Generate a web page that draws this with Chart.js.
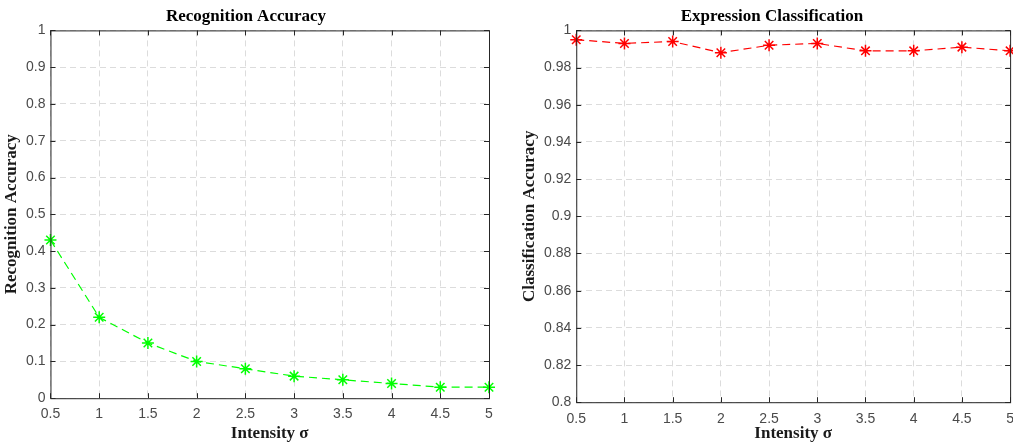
<!DOCTYPE html>
<html>
<head>
<meta charset="utf-8">
<script src="https://cdn.jsdelivr.net/npm/chart.js@4/dist/chart.umd.min.js"></script>
<style>
  html, body { margin: 0; padding: 0; background: #fff; overflow: hidden; }
  .wrap { position: absolute; top: 0; height: 445px; }
  #left { left: 0; width: 506px; }
  #right { left: 506px; width: 517px; }
</style>
</head>
<body>
<div class="wrap" id="left"><canvas id="recChart"></canvas></div>
<div class="wrap" id="right"><canvas id="clsChart"></canvas></div>
<script>
const sigma = [0.5, 1, 1.5, 2, 2.5, 3, 3.5, 4, 4.5, 5];
const recognitionAccuracy = [0.43, 0.22, 0.15, 0.10, 0.08, 0.06, 0.05, 0.04, 0.03, 0.03];
const classificationAccuracy = [0.995, 0.993, 0.994, 0.988, 0.992, 0.993, 0.989, 0.989, 0.991, 0.989];

const SERIF = '"Liberation Serif", "Times New Roman", serif';
const SANS = '"Liberation Sans", Arial, sans-serif';

// box around the plot + small inward tick marks, like matlab axes
const boxPlugin = {
  id: 'box',
  afterDraw(chart) {
    const { ctx, chartArea: a, scales } = chart;
    ctx.save();
    ctx.strokeStyle = '#262626';
    ctx.lineWidth = 1;
    ctx.setLineDash([]);
    ctx.strokeRect(a.left + 0.5, a.top + 0.5, a.right - a.left, a.bottom - a.top);
    ctx.beginPath();
    scales.x.ticks.forEach((t) => {
      const px = Math.round(scales.x.getPixelForValue(t.value)) + 0.5;
      ctx.moveTo(px, a.bottom); ctx.lineTo(px, a.bottom - 5);
      ctx.moveTo(px, a.top); ctx.lineTo(px, a.top + 5);
    });
    scales.y.ticks.forEach((t) => {
      const py = Math.round(scales.y.getPixelForValue(t.value)) + 0.5;
      ctx.moveTo(a.left, py); ctx.lineTo(a.left + 5, py);
      ctx.moveTo(a.right, py); ctx.lineTo(a.right - 5, py);
    });
    ctx.stroke();
    ctx.restore();
  },
};

function makeChart(id, title, yTitle, values, color, yMin, yMax, yStep, padding, xTickPad, xTitlePad) {
  const ctx = document.getElementById(id).getContext('2d');
  return new Chart(ctx, {
    type: 'line',
    data: {
      datasets: [
        {
          data: sigma.map((s, i) => ({ x: s, y: values[i] })),
          borderColor: color,
          backgroundColor: color,
          borderWidth: 1.2,
          borderDash: [8, 5],
          pointStyle: 'star',
          pointRadius: 6,
          pointBorderWidth: 1.5,
          pointBorderColor: color,
          tension: 0,
          clip: false,
        },
      ],
    },
    options: {
      responsive: true,
      maintainAspectRatio: false,
      animation: false,
      layout: { padding: padding },
      plugins: {
        legend: { display: false },
        tooltip: { enabled: false },
        title: {
          display: true,
          text: title,
          color: '#000',
          font: { family: SERIF, size: 17, weight: 'bold' },
          padding: { top: 2, bottom: 4 },
        },
      },
      scales: {
        x: {
          type: 'linear',
          min: 0.5,
          max: 5,
          border: { display: false, dash: [6, 4] },
          grid: { color: '#dcdcdc', drawTicks: false, lineWidth: 1 },
          ticks: {
            stepSize: 0.5,
            color: '#4a4a4a',
            padding: xTickPad,
            maxRotation: 0,
            font: { family: SANS, size: 14 },
            callback: (v) => String(+v.toFixed(2)),
          },
          title: {
            display: true,
            text: 'Intensity σ',
            color: '#1a1a1a',
            font: { family: SERIF, size: 17, weight: 'bold', lineHeight: 1 },
            padding: { top: xTitlePad, bottom: 0 },
          },
        },
        y: {
          min: yMin,
          max: yMax,
          border: { display: false, dash: [6, 4] },
          grid: { color: '#dcdcdc', drawTicks: false, lineWidth: 1 },
          ticks: {
            stepSize: yStep,
            color: '#4a4a4a',
            padding: 5,
            font: { family: SANS, size: 14 },
            callback: (v) => String(+v.toFixed(2)),
          },
          title: {
            display: true,
            text: yTitle,
            color: '#1a1a1a',
            font: { family: SERIF, size: 17, weight: 'bold', lineHeight: 1 },
            padding: { top: 0, bottom: 1 },
          },
        },
      },
    },
    plugins: [boxPlugin],
  });
}

const recChart = makeChart('recChart', 'Recognition Accuracy', 'Recognition Accuracy',
  recognitionAccuracy, '#00ff00', 0, 1, 0.1, { left: 3, right: 17, top: 4, bottom: 3 }, 8, -6);
const clsChart = makeChart('clsChart', 'Expression Classification', 'Classification Accuracy',
  classificationAccuracy, '#ff0000', 0.8, 1, 0.02, { left: 15, right: 0, top: 4, bottom: 3 }, 9, -12);
</script>
</body>
</html>
